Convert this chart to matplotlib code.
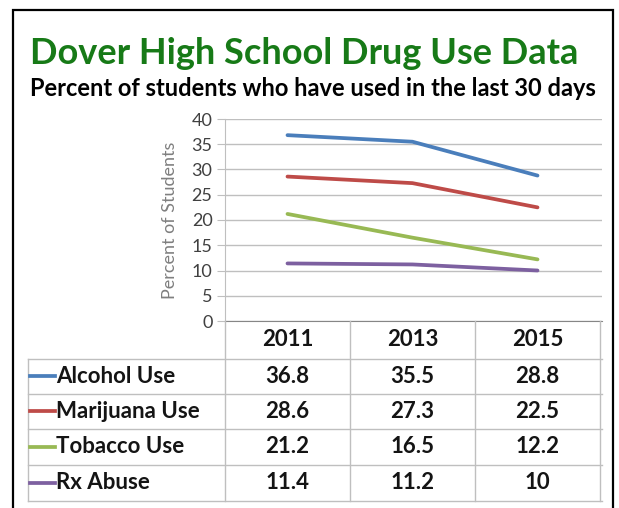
import matplotlib
matplotlib.use("Agg")
import matplotlib.pyplot as plt
from matplotlib import transforms
from matplotlib.patches import Rectangle

plt.rcParams['font.family'] = ['Lato', 'DejaVu Sans']

title = "Dover High School Drug Use Data"
subtitle = "Percent of students who have used in the last 30 days"
ylabel = "Percent of Students"
years = ["2011", "2013", "2015"]
series_names = ["Alcohol Use", "Marijuana Use", "Tobacco Use", "Rx Abuse"]
alcohol = [36.8, 35.5, 28.8]
marijuana = [28.6, 27.3, 22.5]
tobacco = [21.2, 16.5, 12.2]
rx_abuse = [11.4, 11.2, 10]
value_labels = [["36.8", "35.5", "28.8"], ["28.6", "27.3", "22.5"],
                ["21.2", "16.5", "12.2"], ["11.4", "11.2", "10"]]
series = [alcohol, marijuana, tobacco, rx_abuse]
colors = ["#4A7EBB", "#BE4B48", "#98B954", "#7D60A0"]
yticks = [0, 5, 10, 15, 20, 25, 30, 35, 40]

W, H = 619, 508
fig = plt.figure(figsize=(W / 100, H / 100), dpi=100)
fig.patch.set_facecolor("white")

def fx(x):
    return x / W

def fy(y):
    return 1 - y / H

# outer frame
fig.patches.append(Rectangle((fx(13), fy(530)), fx(613) - fx(13), fy(10) - fy(530),
                             transform=fig.transFigure, fill=False,
                             edgecolor="black", linewidth=1.6))

fig.text(fx(30), fy(64), title, color="#177A17", fontsize=26, fontweight="bold",
         ha="left", va="baseline")
fig.text(fx(30), fy(96), subtitle, color="black", fontsize=17, fontweight="bold",
         ha="left", va="baseline")

# main chart axes
L, R, T, B = 225, 602, 119, 321
ax = fig.add_axes([fx(L), fy(B), fx(R) - fx(L), fy(T) - fy(B)])
x = list(range(len(years)))
for vals, c in zip(series, colors):
    ax.plot(x, vals, color=c, lw=2.7, solid_capstyle="round", solid_joinstyle="round")
ax.set_xlim(-0.5, -0.5 + (R - L) / 125)
ax.set_ylim(0, 40)
ax.set_yticks(yticks)
ax.yaxis.grid(True, color="#BFBFBF", lw=1)
ax.set_axisbelow(True)
ax.tick_params(axis="y", length=6, color="#BFBFBF", labelcolor="#404040",
               labelsize=13, pad=3)
ax.tick_params(axis="x", length=0, labelbottom=False)
for s in ["top", "right"]:
    ax.spines[s].set_visible(False)
ax.spines["left"].set_color("#BFBFBF")
ax.spines["bottom"].set_color("#868686")
ax.set_ylabel(ylabel, color="#7F7F7F", fontsize=13, labelpad=10)

# data table
TL, TB = 28, 501
tax = fig.add_axes([fx(TL), fy(TB), fx(R) - fx(TL), fy(B) - fy(TB)])
tax.set_xlim(TL, R)
tax.set_ylim(TB, B)
tax.axis("off")
bt = transforms.blended_transform_factory(ax.transData, tax.transData)

row_lines = [359, 394, 429, 465, 501]
grid_c = "#BFBFBF"
for yl in row_lines:
    tax.plot([TL, R], [yl, yl], color=grid_c, lw=1, clip_on=False)
tax.plot([TL, TL], [row_lines[0], row_lines[-1]], color=grid_c, lw=1, clip_on=False)
tax.plot([L, L], [B, TB], color=grid_c, lw=1, clip_on=False)
for i in range(len(years)):
    tax.plot([i + 0.5, i + 0.5], [B, TB], color=grid_c, lw=1, transform=bt, clip_on=False)

txt_c = "#141414"
for i, yr in enumerate(years):
    tax.text(i, (B + row_lines[0]) / 2, yr, transform=bt, ha="center", va="center",
             fontsize=16, fontweight="bold", color=txt_c)

for r, (name, c) in enumerate(zip(series_names, colors)):
    yc = (row_lines[r] + row_lines[r + 1]) / 2
    tax.plot([30, 55], [yc, yc], color=c, lw=2.7, clip_on=False)
    tax.text(56, yc, name, ha="left", va="center", fontsize=16,
             fontweight="bold", color=txt_c)
    for i in range(len(years)):
        tax.text(i, yc, value_labels[r][i], transform=bt, ha="center", va="center",
                 fontsize=16, fontweight="bold", color=txt_c)

fig.savefig("out.png", dpi=100, facecolor="white")
